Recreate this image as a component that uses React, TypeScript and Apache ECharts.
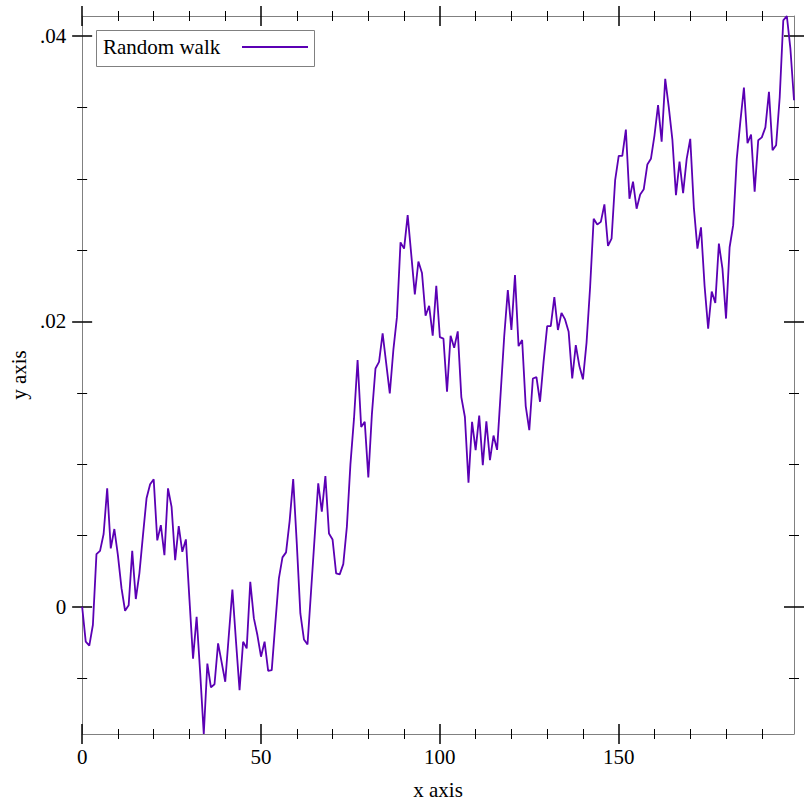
import React, { useEffect, useRef } from "react";
import * as echarts from "echarts";

const walk: number[] = [
  0, -0.00245, -0.00273, -0.00128, 0.00369, 0.00392, 0.0051, 0.0083, 0.00409, 0.00545,
  0.0036, 0.0013, -0.00028, 0.0001, 0.00392, 0.00054, 0.00234, 0.005, 0.0076, 0.00858,
  0.00893, 0.00465, 0.00572, 0.00362, 0.0083, 0.007, 0.00327, 0.00566, 0.00385, 0.00472,
  0.0005, -0.00364, -0.0007, -0.00465, -0.00892, -0.00398, -0.00565, -0.00543, -0.00257, -0.0039,
  -0.00526, -0.002, 0.0012, -0.0024, -0.00584, -0.00245, -0.00292, 0.00175, -0.0008, -0.002,
  -0.0035, -0.00245, -0.0045, -0.00444, -0.00117, 0.00199, 0.00346, 0.00381, 0.006, 0.00895,
  0.00444, -0.00047, -0.00229, -0.00264, 0.00112, 0.0049, 0.00865, 0.00666, 0.00916, 0.00514,
  0.00472, 0.00234, 0.00227, 0.00299, 0.0056, 0.01, 0.0132, 0.0173, 0.0126, 0.01296,
  0.00907, 0.0135, 0.0167, 0.01717, 0.01916, 0.01706, 0.01495, 0.018, 0.0203, 0.02554,
  0.0251, 0.02745, 0.0247, 0.0219, 0.0242, 0.0234, 0.0204, 0.0211, 0.019, 0.0225,
  0.0189, 0.0188, 0.01507, 0.019, 0.01815, 0.0193, 0.0147, 0.0133, 0.0087, 0.01296,
  0.01098, 0.0134, 0.00993, 0.013, 0.01028, 0.012, 0.011, 0.015, 0.019, 0.0222,
  0.0194, 0.02325, 0.01827, 0.0187, 0.01407, 0.01238, 0.016, 0.0161, 0.01437, 0.0172,
  0.01967, 0.01967, 0.0217, 0.0194, 0.0206, 0.02014, 0.01927, 0.016, 0.01834, 0.01687,
  0.01594, 0.0185, 0.0224, 0.0272, 0.0268, 0.02698, 0.0282, 0.0253, 0.0258, 0.0299,
  0.0316, 0.0316, 0.03345, 0.0286, 0.0298, 0.0279, 0.0289, 0.02927, 0.031, 0.0314,
  0.03305, 0.03516, 0.0326, 0.037, 0.035, 0.03275, 0.02885, 0.0312, 0.029, 0.0314,
  0.0328, 0.028, 0.0251, 0.0266, 0.0225, 0.0195, 0.0221, 0.0213, 0.02546, 0.0237,
  0.0202, 0.0252, 0.02675, 0.0314, 0.034, 0.0364, 0.0325, 0.0331, 0.0291, 0.0327,
  0.0329, 0.0336, 0.0361, 0.032, 0.03235, 0.0357, 0.0411, 0.04141, 0.0391, 0.0355,
];

const xMajor = [0, 50, 100, 150];
const xMinor = [10, 20, 30, 40, 60, 70, 80, 90, 110, 120, 130, 140, 160, 170, 180, 190];
const yMajor = [0, 0.02, 0.04];
const yMinor = [-0.005, 0.005, 0.01, 0.015, 0.025, 0.03, 0.035];

const X_MIN = 0;
const X_MAX = 199;
const Y_MIN = -0.00892;
const Y_MAX = 0.04141;

const seriesName = "Random walk";
const lineColor = "#5b00b4";
const FONT = '"Liberation Serif", "Times New Roman", serif';

function tickAxis(position: string, min: number, max: number, values: number[], length: number, inside: boolean, showLine: boolean, tickWidth: number) {
  return {
    type: "value",
    position,
    min,
    max,
    splitLine: { show: false },
    axisLine: { show: showLine, onZero: false, lineStyle: { color: "#808080", width: 1 } },
    axisLabel: { show: false },
    axisTick: { show: true, inside, length, customValues: values, lineStyle: { color: "#000", width: tickWidth } },
  };
}

export default function App() {
  const ref = useRef<HTMLDivElement>(null);
  useEffect(() => {
    if (!ref.current) return;
    const chart = echarts.init(ref.current, null, { renderer: "svg" });

    const MJ = 1.5;
    const MN = 1;

    const xMain: any = tickAxis("bottom", X_MIN, X_MAX, xMajor, 10, false, true, MJ);
    xMain.axisLabel = {
      show: true,
      customValues: xMajor,
      margin: 12,
      color: "#000",
      fontSize: 21,
      fontFamily: FONT,
      formatter: (v: number) => String(v),
    };
    xMain.name = "x axis";
    xMain.nameLocation = "middle";
    xMain.nameGap = 45;
    xMain.nameTextStyle = { color: "#000", fontSize: 21, fontFamily: FONT };

    const yMain: any = tickAxis("left", Y_MIN, Y_MAX, yMajor, 10, false, true, MJ);
    yMain.axisLabel = {
      show: true,
      customValues: yMajor,
      margin: 16,
      color: "#000",
      fontSize: 21,
      fontFamily: FONT,
      formatter: (v: number) => (Math.abs(v) < 1e-12 ? "0" : v.toFixed(2).replace(/^0/, "")),
    };
    yMain.name = "y axis";
    yMain.nameLocation = "middle";
    yMain.nameGap = 52;
    yMain.nameTextStyle = { color: "#000", fontSize: 21, fontFamily: FONT };

    const xAxes = [
      xMain,
      tickAxis("bottom", X_MIN, X_MAX, xMajor, 10, true, false, MJ),
      tickAxis("bottom", X_MIN, X_MAX, xMinor, 5, false, false, MN),
      tickAxis("bottom", X_MIN, X_MAX, xMinor, 5, true, false, MN),
      tickAxis("top", X_MIN, X_MAX, xMajor, 10, false, true, MJ),
      tickAxis("top", X_MIN, X_MAX, xMajor, 10, true, false, MJ),
      tickAxis("top", X_MIN, X_MAX, xMinor, 5, false, false, MN),
      tickAxis("top", X_MIN, X_MAX, xMinor, 5, true, false, MN),
    ];
    const yAxes = [
      yMain,
      tickAxis("left", Y_MIN, Y_MAX, yMajor, 10, true, false, MJ),
      tickAxis("left", Y_MIN, Y_MAX, yMinor, 5, false, false, MN),
      tickAxis("left", Y_MIN, Y_MAX, yMinor, 5, true, false, MN),
      tickAxis("right", Y_MIN, Y_MAX, yMajor, 10, false, true, MJ),
      tickAxis("right", Y_MIN, Y_MAX, yMajor, 10, true, false, MJ),
      tickAxis("right", Y_MIN, Y_MAX, yMinor, 5, false, false, MN),
      tickAxis("right", Y_MIN, Y_MAX, yMinor, 5, true, false, MN),
    ];

    chart.setOption({
      animation: false,
      backgroundColor: "#fff",
      grid: { left: 82, right: 18, top: 16, bottom: 78, containLabel: false },
      xAxis: xAxes,
      yAxis: yAxes,
      series: [
        {
          name: seriesName,
          type: "line",
          xAxisIndex: 0,
          yAxisIndex: 0,
          showSymbol: false,
          symbol: "none",
          lineStyle: { color: lineColor, width: 1.8 },
          itemStyle: { color: lineColor },
          data: walk.map((v, i) => [i, v]),
          z: 5,
        },
      ],
      graphic: [
        {
          type: "rect",
          shape: { x: 96.5, y: 30.5, width: 218, height: 36 },
          style: { fill: "#fff", stroke: "#808080", lineWidth: 1 },
          z: 100,
        },
        {
          type: "text",
          x: 103,
          y: 47,
          style: { text: seriesName, fontSize: 21, fontFamily: FONT, fill: "#000", verticalAlign: "middle", align: "left" },
          z: 101,
        },
        {
          type: "line",
          shape: { x1: 242, y1: 47, x2: 308, y2: 47 },
          style: { stroke: lineColor, lineWidth: 2 },
          z: 101,
        },
      ],
    });
    return () => chart.dispose();
  }, []);

  return (
    <div
      ref={ref}
      style={{ position: "fixed", left: 0, top: 0, width: 812, height: 812, background: "#fff" }}
    />
  );
}
